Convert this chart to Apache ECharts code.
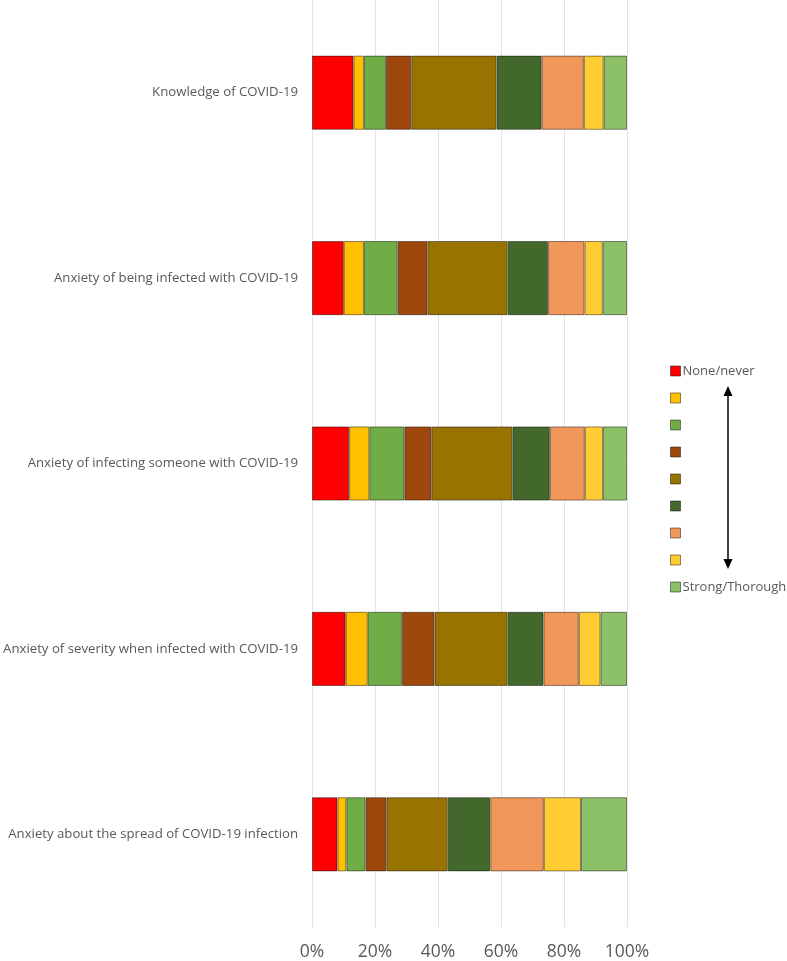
<!DOCTYPE html>
<html>
<head>
<meta charset="utf-8">
<script src="https://cdn.jsdelivr.net/npm/echarts@6/dist/echarts.min.js"></script>
<style>html,body{margin:0;padding:0;background:#fff}#c{width:787px;height:961px}</style>
</head>
<body>
<div id="c"></div>
<script>
var categories = [
  'Knowledge of COVID-19',
  'Anxiety of being infected with COVID-19',
  'Anxiety of infecting someone with COVID-19',
  'Anxiety of severity when infected with COVID-19',
  'Anxiety about the spread of COVID-19 infection'
];
var seriesNames = ['None/never','Level 2','Level 3','Level 4','Level 5','Level 6','Level 7','Level 8','Strong/Thorough'];
var level1 = [13.2, 10.1, 11.8, 10.7, 8.1];
var level2 = [3.3, 6.4, 6.4, 7.0, 2.8];
var level3 = [7.0, 10.7, 11.1, 10.9, 6.1];
var level4 = [8.0, 9.5, 8.7, 10.3, 6.7];
var level5 = [27.1, 25.4, 25.6, 23.2, 19.4];
var level6 = [14.3, 12.8, 11.9, 11.4, 13.5];
var level7 = [13.4, 11.6, 11.1, 11.2, 17.0];
var level8 = [6.3, 5.8, 5.8, 6.9, 11.8];
var level9 = [7.4, 7.7, 7.6, 8.4, 14.6];
var tickLabels = ['0%','20%','40%','60%','80%','100%'];

var levels = [level1, level2, level3, level4, level5, level6, level7, level8, level9];
var colors = ['#FF0000','#FFC000','#70AD47','#9E480E','#997300','#43682B','#F1975A','#FFCD33','#8CC168'];
var font = '"Open Sans", sans-serif';

var chart = echarts.init(document.getElementById('c'));
chart.setOption({
  animation: false,
  color: colors,
  grid: {left: 312, right: 160, top: 0, bottom: 30, containLabel: false},
  legend: {
    orient: 'vertical', left: 665, top: 357,
    itemWidth: 10, itemHeight: 10, itemGap: 9,
    icon: 'rect',
    data: seriesNames,
    formatter: function (n) { return (n === 'None/never' || n === 'Strong/Thorough') ? n : ' '; },
    textStyle: {fontFamily: font, fontSize: 13, lineHeight: 18, color: '#595959', padding: [0,0,0,-3]},
    itemStyle: {borderColor: 'rgba(0,0,0,0.45)', borderWidth: 1}
  },
  xAxis: {
    type: 'value', min: 0, max: 100, interval: 20,
    axisLine: {show: false}, axisTick: {show: false},
    splitLine: {lineStyle: {color: '#E3E3E3', width: 1}},
    axisLabel: {
      formatter: function (v) { return tickLabels[Math.round(v / 20)]; },
      fontFamily: font, fontSize: 17.5, color: '#595959', margin: 16
    }
  },
  yAxis: {
    type: 'category', data: categories, inverse: true,
    axisLine: {show: false}, axisTick: {show: false},
    axisLabel: {fontFamily: font, fontSize: 13.2, color: '#595959', margin: 14}
  },
  series: levels.map(function (d, i) {
    return {
      name: seriesNames[i], type: 'bar', stack: 'total', data: d,
      barWidth: '40%',
      itemStyle: {borderColor: 'rgba(0,0,0,0.45)', borderWidth: 1}
    };
  }),
  graphic: [
    {type: 'line', shape: {x1: 728, y1: 392, x2: 728, y2: 563}, style: {stroke: '#000', lineWidth: 1.5}},
    {type: 'polygon', shape: {points: [[728, 386], [723.5, 396], [732.5, 396]]}, style: {fill: '#000'}},
    {type: 'polygon', shape: {points: [[728, 569], [723.5, 559], [732.5, 559]]}, style: {fill: '#000'}}
  ]
});
</script>
</body>
</html>
